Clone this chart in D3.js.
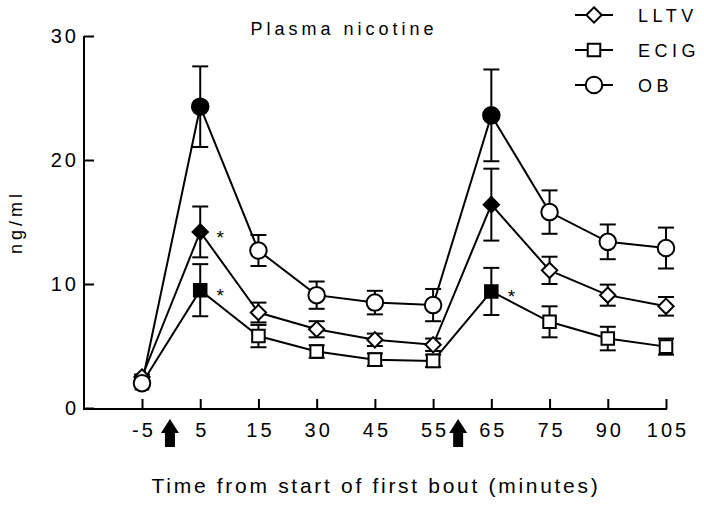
<!DOCTYPE html>
<html>
<head>
<meta charset="utf-8">
<script src="https://cdn.jsdelivr.net/npm/d3@7"></script>
<style>
  body { margin: 0; background: #fff; }
  text { font-family: Arial, "Liberation Sans", sans-serif; fill: #000; }
</style>
</head>
<body>
<div class="chart"></div>
<script>
// time points (minutes)
const times = ["-5", "5", "15", "30", "45", "55", "65", "75", "90", "105"];

// mean plasma nicotine, ng/ml
const lltv = [2.5, 14.2, 7.7, 6.35, 5.5, 5.1, 16.4, 11.1, 9.1, 8.2];
const ecig = [2.0, 9.5, 5.8, 4.55, 3.9, 3.8, 9.4, 6.95, 5.6, 4.95];
const ob = [2.0, 24.3, 12.7, 9.1, 8.5, 8.3, 23.6, 15.8, 13.4, 12.9];

// SEM
const lltvErr = [0.2, 2.05, 0.8, 0.65, 0.5, 0.5, 2.9, 1.1, 0.85, 0.75];
const ecigErr = [0.2, 2.1, 0.9, 0.5, 0.5, 0.5, 1.9, 1.25, 0.95, 0.65];
const obErr = [0.2, 3.25, 1.25, 1.1, 0.95, 1.3, 3.7, 1.75, 1.4, 1.65];

// points drawn filled (after a bout)
const filledTimes = ["5", "65"];

// asterisks: [series, time]
const stars = [["LLTV", "5"], ["ECIG", "5"], ["ECIG", "65"]];

// bout arrows between ticks: [from, to, fraction]
const arrows = [["-5", "5", 0.48], ["55", "65", 0.43]];

const yTicks = [0, 10, 20, 30];

const series = [
  { name: "LLTV", shape: "diamond", values: lltv, err: lltvErr },
  { name: "ECIG", shape: "square", values: ecig, err: ecigErr },
  { name: "OB", shape: "circle", values: ob, err: obErr }
];

function drawChart() {
  let width = 704,
    height = 505,
    axisX = 84,
    axisY = 409;

  let svg = d3
    .select(".chart")
    .append("svg")
    .attr("width", width)
    .attr("height", height);

  let xScale = d3.scalePoint().domain(times).range([142, 666]);
  let yScale = d3.scaleLinear().domain([0, 30]).range([408, 36]);

  // y axis
  let yAxis = d3
    .axisLeft(yScale)
    .tickValues(yTicks)
    .tickSizeInner(-10)
    .tickSizeOuter(0)
    .tickPadding(8);
  let gy = svg
    .append("g")
    .attr("transform", "translate(" + axisX + ",0)")
    .call(yAxis);
  gy.select(".domain").remove();
  gy.selectAll(".tick line").attr("stroke", "#000").attr("stroke-width", 2);
  gy.selectAll(".tick text")
    .attr("font-size", 20)
    .attr("letter-spacing", 3)
    .attr("dx", 3)
    .attr("font-family", "Arial, 'Liberation Sans', sans-serif");
  svg
    .append("line")
    .attr("x1", axisX)
    .attr("x2", axisX)
    .attr("y1", yScale(30))
    .attr("y2", axisY + 1)
    .attr("stroke", "#000")
    .attr("stroke-width", 2);

  // x axis
  let xAxis = d3.axisBottom(xScale).tickSizeInner(-10).tickSizeOuter(0).tickPadding(14);
  let gx = svg
    .append("g")
    .attr("transform", "translate(0," + axisY + ")")
    .call(xAxis);
  gx.select(".domain").remove();
  gx.selectAll(".tick line").attr("stroke", "#000").attr("stroke-width", 2);
  gx.selectAll(".tick text")
    .attr("font-size", 20)
    .attr("letter-spacing", 3)
    .attr("dx", 1.5)
    .attr("font-family", "Arial, 'Liberation Sans', sans-serif");
  svg
    .append("line")
    .attr("x1", axisX)
    .attr("x2", xScale(times[times.length - 1]) + 1)
    .attr("y1", axisY)
    .attr("y2", axisY)
    .attr("stroke", "#000")
    .attr("stroke-width", 2);

  // bout arrows
  arrows.forEach((a) => {
    let cx = xScale(a[0]) + (xScale(a[1]) - xScale(a[0])) * a[2];
    let top = 419;
    svg
      .append("path")
      .attr(
        "d",
        "M" + cx + "," + top +
          " L" + (cx + 9) + "," + (top + 14) +
          " L" + (cx + 5) + "," + (top + 14) +
          " L" + (cx + 5) + "," + (top + 28) +
          " L" + (cx - 5) + "," + (top + 28) +
          " L" + (cx - 5) + "," + (top + 14) +
          " L" + (cx - 9) + "," + (top + 14) + " Z"
      )
      .attr("fill", "#000");
  });

  let line = d3
    .line()
    .x((d, i) => xScale(times[i]))
    .y((d) => yScale(d));

  let symbolOf = {
    diamond: d3.symbol().type(d3.symbolDiamond2).size(150),
    square: d3.symbol().type(d3.symbolSquare2).size(200),
    circle: d3.symbol().type(d3.symbolCircle).size(215)
  };

  // connecting lines
  series.forEach((s) => {
    svg
      .append("path")
      .datum(s.values)
      .attr("d", line)
      .attr("fill", "none")
      .attr("stroke", "#000")
      .attr("stroke-width", 2);
  });

  // error bars
  series.forEach((s) => {
    let g = svg.append("g");
    s.values.forEach((v, i) => {
      let x = xScale(times[i]);
      let hi = yScale(v + s.err[i]),
        lo = yScale(v - s.err[i]);
      g.append("line").attr("x1", x).attr("x2", x).attr("y1", hi).attr("y2", lo);
      g.append("line").attr("x1", x - 8).attr("x2", x + 8).attr("y1", hi).attr("y2", hi);
      g.append("line").attr("x1", x - 8).attr("x2", x + 8).attr("y1", lo).attr("y2", lo);
    });
    g.selectAll("line").attr("stroke", "#000").attr("stroke-width", 2);
  });

  // markers
  series.forEach((s) => {
    svg
      .append("g")
      .selectAll("path")
      .data(s.values)
      .enter()
      .append("path")
      .attr("transform", (d, i) => "translate(" + xScale(times[i]) + "," + yScale(d) + ")")
      .attr("d", symbolOf[s.shape])
      .attr("fill", (d, i) => (filledTimes.includes(times[i]) ? "#000" : "#fff"))
      .attr("stroke", "#000")
      .attr("stroke-width", 2);
  });

  // asterisks
  stars.forEach((st) => {
    let s = series.find((d) => d.name === st[0]);
    let i = times.indexOf(st[1]);
    svg
      .append("text")
      .attr("x", xScale(st[1]) + 20)
      .attr("y", yScale(s.values[i]) + 12)
      .attr("text-anchor", "middle")
      .attr("font-size", 19)
      .text("*");
  });

  // titles
  svg
    .append("text")
    .attr("x", 344)
    .attr("y", 35)
    .attr("text-anchor", "middle")
    .attr("font-size", 18)
    .attr("letter-spacing", 4)
    .text("Plasma nicotine");

  svg
    .append("text")
    .attr("x", 376)
    .attr("y", 493)
    .attr("text-anchor", "middle")
    .attr("font-size", 21)
    .attr("letter-spacing", 2.7)
    .text("Time from start of first bout (minutes)");

  svg
    .append("text")
    .attr("transform", "translate(22,222) rotate(-90)")
    .attr("text-anchor", "middle")
    .attr("font-size", 18)
    .attr("letter-spacing", 4)
    .text("ng/ml");

  // legend
  let legend = svg
    .append("g")
    .selectAll("g")
    .data(series)
    .enter()
    .append("g")
    .attr("transform", (d, i) => "translate(594," + (15 + i * 35) + ")");
  legend
    .append("line")
    .attr("x1", -19)
    .attr("x2", 19)
    .attr("stroke", "#000")
    .attr("stroke-width", 2);
  legend
    .append("path")
    .attr("d", (d) => symbolOf[d.shape]())
    .attr("fill", "#fff")
    .attr("stroke", "#000")
    .attr("stroke-width", 2);
  legend
    .append("text")
    .attr("x", 44)
    .attr("y", 7)
    .attr("font-size", 18)
    .attr("letter-spacing", 4.5)
    .text((d) => d.name);
}

drawChart();
</script>
</body>
</html>
